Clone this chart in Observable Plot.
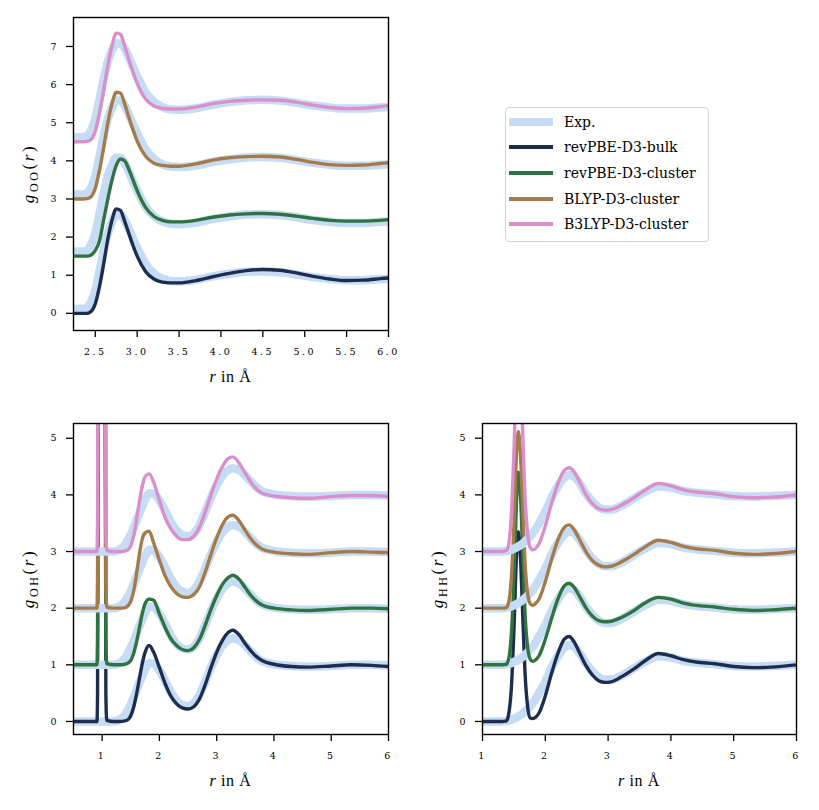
<!DOCTYPE html>
<html>
<head>
<meta charset="utf-8">
<script src="https://cdn.jsdelivr.net/npm/d3@7"></script>
<script src="https://cdn.jsdelivr.net/npm/@observablehq/plot@0.6"></script>
<style>
  html, body { margin: 0; padding: 0; background: white; }
  #fig { position: relative; width: 819px; height: 810px; background: white; overflow: hidden; }
  #fig svg { position: absolute; overflow: visible; }
  g[aria-label$="tick"] { stroke: #000; stroke-width: 1.3px; }
  #legend { position: absolute; left: 505px; top: 107px; width: 204px; height: 135px;
            border: 1.2px solid #d4d4d4; border-radius: 4px; background: rgba(255,255,255,0.8);
            box-sizing: border-box; font-family: "DejaVu Serif", serif; font-size: 14px; color: #000; }
  .lrow { position: absolute; left: 0; height: 26px; line-height: 26px; width: 100%; }
  .lsw { position: absolute; left: 3px; width: 44px; top: 50%; }
  .ltx { position: absolute; left: 58px; top: 0; white-space: nowrap; }
</style>
</head>
<body>
<div id="fig"></div>
<script>
// ---------- data ----------
const seriesNames = ["revPBE-D3-bulk", "revPBE-D3-cluster", "BLYP-D3-cluster", "B3LYP-D3-cluster"];
const seriesColors = ["#1c2d4f", "#2e7341", "#a67b4c", "#da8fca"];
const expName = "Exp.";
const expColor = "#c6dcf5";

// g_OO
const OO_r = [2.24, 2.35, 2.4, 2.45, 2.5, 2.55, 2.6, 2.65, 2.7, 2.75, 2.8, 2.85, 2.9, 2.95, 3.0, 3.1, 3.2, 3.3, 3.4, 3.5, 3.7, 3.9, 4.1, 4.3, 4.5, 4.7, 4.9, 5.1, 5.3, 5.5, 5.7, 5.9, 6.0];
const OO_exp = [0.12,0.12,0.15,0.3,0.6,1.1,1.65,2.1,2.4,2.58,2.58,2.45,2.22,1.96,1.72,1.3,1.05,0.91,0.85,0.84,0.88,0.97,1.04,1.09,1.1,1.08,1.02,0.95,0.9,0.87,0.87,0.9,0.91];
const OO_bulk = [0,0,0,0.05,0.25,0.7,1.3,1.95,2.45,2.74,2.7,2.42,2.1,1.78,1.5,1.1,0.9,0.82,0.8,0.8,0.86,0.96,1.05,1.12,1.15,1.13,1.06,0.97,0.9,0.86,0.87,0.91,0.93];
const OO_revc = [0,0,0,0.03,0.15,0.4,0.95,1.5,2.0,2.38,2.55,2.5,2.28,2.0,1.72,1.28,1.04,0.94,0.9,0.9,0.94,1.02,1.08,1.11,1.12,1.1,1.05,0.99,0.94,0.92,0.92,0.94,0.96];
const OO_blyp = [0,0,0.01,0.06,0.28,0.75,1.35,2.0,2.5,2.8,2.78,2.5,2.15,1.82,1.52,1.12,0.94,0.88,0.86,0.86,0.92,1.02,1.08,1.11,1.12,1.1,1.04,0.96,0.9,0.88,0.89,0.93,0.95];
const OO_b3lyp = [0,0,0.01,0.06,0.28,0.75,1.35,2.0,2.52,2.85,2.82,2.52,2.16,1.83,1.53,1.12,0.94,0.88,0.86,0.86,0.91,1.0,1.06,1.09,1.1,1.09,1.04,0.96,0.9,0.87,0.88,0.92,0.95];
const OO_offsets = [0, 1.5, 3, 4.5];
const OO_xTicks = [2.5, 3.0, 3.5, 4.0, 4.5, 5.0, 5.5, 6.0];
const OO_xTickLabels = ["2.5", "3.0", "3.5", "4.0", "4.5", "5.0", "5.5", "6.0"];
const OO_yTicks = [0, 1, 2, 3, 4, 5, 6, 7];
const OO_yTickLabels = ["0", "1", "2", "3", "4", "5", "6", "7"];

// g_OH
const OH_r = [0.5, 0.9, 0.91, 0.92, 0.93, 0.95, 0.99, 1.03, 1.055, 1.065, 1.08, 1.2, 1.3, 1.4, 1.45, 1.5, 1.55, 1.6, 1.65, 1.7, 1.75, 1.82, 1.9, 2.0, 2.1, 2.2, 2.3, 2.4, 2.5, 2.6, 2.7, 2.8, 2.9, 3.0, 3.1, 3.2, 3.28, 3.4, 3.5, 3.6, 3.7, 3.8, 4.0, 4.3, 4.6, 5.0, 5.35, 5.7, 6.0];
const OH_exp = [0,0,0,0,0,0,0,0,0,0,0,0,0.03, 0.12,0.2,0.3,0.42,0.55,0.68,0.8,0.92,1.03,1.02,0.9,0.72,0.52,0.37,0.29,0.27,0.32,0.47,0.7,0.95,1.17,1.34,1.44,1.47,1.43,1.34,1.23,1.13,1.06,1.01,0.98,0.97,0.98,1.0,1.0,0.99];
const OH_bulk = [0,0,0,0.5,6,25,40,25,6,0.5,0.02,0,0, 0.01,0.03,0.1,0.25,0.48,0.75,1.02,1.22,1.34,1.22,0.95,0.67,0.45,0.31,0.24,0.22,0.26,0.4,0.65,0.95,1.22,1.43,1.57,1.61,1.52,1.37,1.24,1.14,1.07,1.01,0.97,0.96,0.98,1.0,0.99,0.97];
const OH_revc = [0,0,0,0.5,6,25,40,25,6,0.5,0.02,0,0, 0.01,0.03,0.08,0.2,0.4,0.65,0.9,1.08,1.16,1.14,0.9,0.66,0.46,0.34,0.27,0.25,0.3,0.45,0.7,0.98,1.22,1.42,1.54,1.58,1.5,1.36,1.22,1.12,1.05,1.0,0.97,0.96,0.98,1.0,1.0,0.99];
const OH_blyp = [0,0,0,0.5,6,25,40,25,6,0.5,0.02,0,0, 0.01,0.04,0.12,0.3,0.6,0.95,1.22,1.33,1.36,1.15,0.85,0.57,0.38,0.26,0.2,0.19,0.24,0.38,0.64,0.95,1.24,1.47,1.61,1.64,1.53,1.37,1.22,1.11,1.04,0.99,0.96,0.95,0.98,1.0,0.99,0.98];
const OH_b3lyp = [0,0,0,0.5,6,25,40,25,6,0.5,0.02,0,0, 0.01,0.03,0.1,0.27,0.55,0.88,1.15,1.32,1.37,1.22,0.9,0.6,0.4,0.27,0.21,0.21,0.27,0.43,0.7,1.0,1.28,1.5,1.64,1.67,1.55,1.38,1.22,1.1,1.03,0.98,0.95,0.94,0.97,0.99,0.99,0.97];
const OH_offsets = [0, 1, 2, 3];
const OH_xTicks = [1, 2, 3, 4, 5, 6];
const OH_xTickLabels = ["1", "2", "3", "4", "5", "6"];
const OH_yTicks = [0, 1, 2, 3, 4, 5];
const OH_yTickLabels = ["0", "1", "2", "3", "4", "5"];

// g_HH
const HH_r = [1.0, 1.3, 1.38, 1.42, 1.46, 1.5, 1.54, 1.57, 1.6, 1.64, 1.68, 1.72, 1.76, 1.8, 1.85, 1.9, 2.0, 2.1, 2.2, 2.3, 2.38, 2.45, 2.55, 2.65, 2.75, 2.85, 2.95, 3.05, 3.2, 3.4, 3.6, 3.8, 4.0, 4.2, 4.4, 4.7, 5.0, 5.3, 5.6, 6.0];
const HH_exp = [0,0,0.01,0.02,0.03,0.05,0.07,0.09,0.11,0.14,0.18,0.22,0.27,0.32,0.4,0.5,0.7,0.95,1.15,1.3,1.35,1.33,1.2,1.02,0.88,0.78,0.74,0.74,0.8,0.93,1.06,1.15,1.13,1.07,1.04,1.01,0.98,0.97,0.98,1.0];
const HH_bulk = [0,0,0.01,0.15,0.6,1.6,2.9,3.35,3.0,1.9,0.8,0.25,0.06,0.05,0.08,0.15,0.45,0.85,1.2,1.45,1.5,1.42,1.2,0.98,0.82,0.72,0.69,0.7,0.78,0.92,1.08,1.2,1.16,1.09,1.05,1.02,0.97,0.95,0.96,1.0];
const HH_revc = [0,0,0.01,0.12,0.55,1.5,2.85,3.4,3.1,2.0,0.85,0.3,0.1,0.06,0.09,0.16,0.45,0.82,1.16,1.39,1.44,1.38,1.2,1.0,0.86,0.78,0.76,0.77,0.83,0.95,1.1,1.19,1.16,1.09,1.05,1.02,0.98,0.96,0.97,1.0];
const HH_blyp = [0,0,0.01,0.12,0.55,1.45,2.7,3.12,2.8,1.8,0.75,0.25,0.08,0.05,0.09,0.16,0.47,0.86,1.2,1.42,1.47,1.4,1.2,0.99,0.84,0.76,0.73,0.74,0.81,0.94,1.09,1.2,1.16,1.09,1.05,1.02,0.97,0.95,0.96,1.0];
const HH_b3lyp = [0,0,0.02,0.15,0.65,1.75,3.1,3.5,3.2,2.1,0.9,0.3,0.07,0.03,0.06,0.14,0.45,0.85,1.2,1.43,1.48,1.42,1.22,1.0,0.84,0.76,0.73,0.74,0.81,0.94,1.09,1.2,1.16,1.09,1.05,1.02,0.97,0.95,0.96,1.0];
const HH_offsets = [0, 1, 2, 3];
const HH_xTicks = [1, 2, 3, 4, 5, 6];
const HH_xTickLabels = ["1", "2", "3", "4", "5", "6"];
const HH_yTicks = [0, 1, 2, 3, 4, 5];
const HH_yTickLabels = ["0", "1", "2", "3", "4", "5"];

// ---------- drawing ----------
const fig = document.getElementById("fig");

function rows(r, vals, off) {
  return r.map((x, i) => ({r: x, g: vals[i] + off}));
}

function panel(o) {
  const marks = [];
  o.series.forEach((vals, i) => {
    marks.push(Plot.line(rows(o.r, o.exp, o.offsets[i]), {x: "r", y: "g", stroke: expColor, strokeWidth: 8.5, curve: "monotone-x", clip: true}));
    marks.push(Plot.line(rows(o.r, vals, o.offsets[i]), {x: "r", y: "g", stroke: seriesColors[i], strokeWidth: 3.4, curve: "monotone-x", clip: true}));
  });
  marks.push(Plot.frame({stroke: "#000", strokeWidth: 1.4}));
  marks.push(Plot.axisX({ticks: o.xTicks, tickFormat: d => o.xTickLabels[o.xTicks.indexOf(d)], tickSize: 7, tickPadding: 11, label: null}));
  marks.push(Plot.axisY({ticks: o.yTicks, tickFormat: d => o.yTickLabels[o.yTicks.indexOf(d)], tickSize: 7, tickPadding: 10, label: null}));
  const svg = Plot.plot({
    width: o.width, height: o.height,
    marginLeft: o.ml, marginRight: o.mr, marginTop: o.mt, marginBottom: o.mb,
    x: {domain: o.xDomain},
    y: {domain: o.yDomain},
    style: {fontFamily: "'DejaVu Serif', serif", fontSize: "9.5px", color: "#000", background: "transparent"},
    marks
  });
  svg.style.left = o.left + "px";
  svg.style.top = o.top + "px";
  const s = d3.select(svg);
  s.selectAll('g[aria-label="x-axis tick label"]').style("letter-spacing", "2.5px");
  // y label
  const cx = o.ml - 39, cy = o.mt + (o.height - o.mt - o.mb) / 2;
  const t = s.append("text")
    .attr("transform", `translate(${cx},${cy}) rotate(-90)`)
    .attr("text-anchor", "middle").attr("fill", "#000")
    .style("font-family", "'Liberation Serif', serif").style("font-size", "17px").style("letter-spacing", "2.6px");
  t.append("tspan").style("font-style", "italic").text("g");
  t.append("tspan").attr("dy", 4).style("font-size", "12px").text(o.sub);
  t.append("tspan").attr("dy", -4).text("(");
  t.append("tspan").style("font-style", "italic").text("r");
  t.append("tspan").text(")");
  // x label
  const xl = s.append("text")
    .attr("x", o.ml + (o.width - o.ml - o.mr) / 2).attr("y", o.height - o.mb + 52)
    .attr("text-anchor", "middle").attr("fill", "#000")
    .style("font-family", "'Liberation Serif', serif").style("font-size", "16px").style("letter-spacing", "0.6px");
  xl.append("tspan").style("font-style", "italic").text("r");
  xl.append("tspan").text(" in Å");
  fig.appendChild(svg);
}

panel({r: OO_r, exp: OO_exp, series: [OO_bulk, OO_revc, OO_blyp, OO_b3lyp], offsets: OO_offsets,
  xTicks: OO_xTicks, xTickLabels: OO_xTickLabels, yTicks: OO_yTicks, yTickLabels: OO_yTickLabels,
  xDomain: [2.24, 6.0], yDomain: [-0.45, 7.76], sub: "OO",
  width: 400, height: 400, ml: 73, mr: 12, mt: 17, mb: 70, left: 0, top: 0});

panel({r: OH_r, exp: OH_exp, series: [OH_bulk, OH_revc, OH_blyp, OH_b3lyp], offsets: OH_offsets,
  xTicks: OH_xTicks, xTickLabels: OH_xTickLabels, yTicks: OH_yTicks, yTickLabels: OH_yTickLabels,
  xDomain: [0.5, 6.0], yDomain: [-0.23, 5.26], sub: "OH",
  width: 400, height: 400, ml: 73, mr: 12, mt: 23, mb: 66, left: 0, top: 400});

panel({r: HH_r, exp: HH_exp, series: [HH_bulk, HH_revc, HH_blyp, HH_b3lyp], offsets: HH_offsets,
  xTicks: HH_xTicks, xTickLabels: HH_xTickLabels, yTicks: HH_yTicks, yTickLabels: HH_yTickLabels,
  xDomain: [1.0, 6.0], yDomain: [-0.23, 5.26], sub: "HH",
  width: 419, height: 400, ml: 82, mr: 23, mt: 23, mb: 66, left: 400, top: 400});

// ---------- legend ----------
const legend = document.createElement("div");
legend.id = "legend";
const entries = [{name: expName, color: expColor, w: 7.5}].concat(seriesNames.map((n, i) => ({name: n, color: seriesColors[i], w: 3.5})));
const rowCenters = [14, 39, 65, 91, 116];
entries.forEach((e, i) => {
  const row = document.createElement("div");
  row.className = "lrow";
  row.style.top = (rowCenters[i] - 13) + "px";
  const sw = document.createElement("div");
  sw.className = "lsw";
  sw.style.height = e.w + "px";
  sw.style.marginTop = (-e.w / 2) + "px";
  sw.style.background = e.color;
  const tx = document.createElement("span");
  tx.className = "ltx";
  tx.textContent = e.name;
  row.appendChild(sw);
  row.appendChild(tx);
  legend.appendChild(row);
});
fig.appendChild(legend);
</script>
</body>
</html>
